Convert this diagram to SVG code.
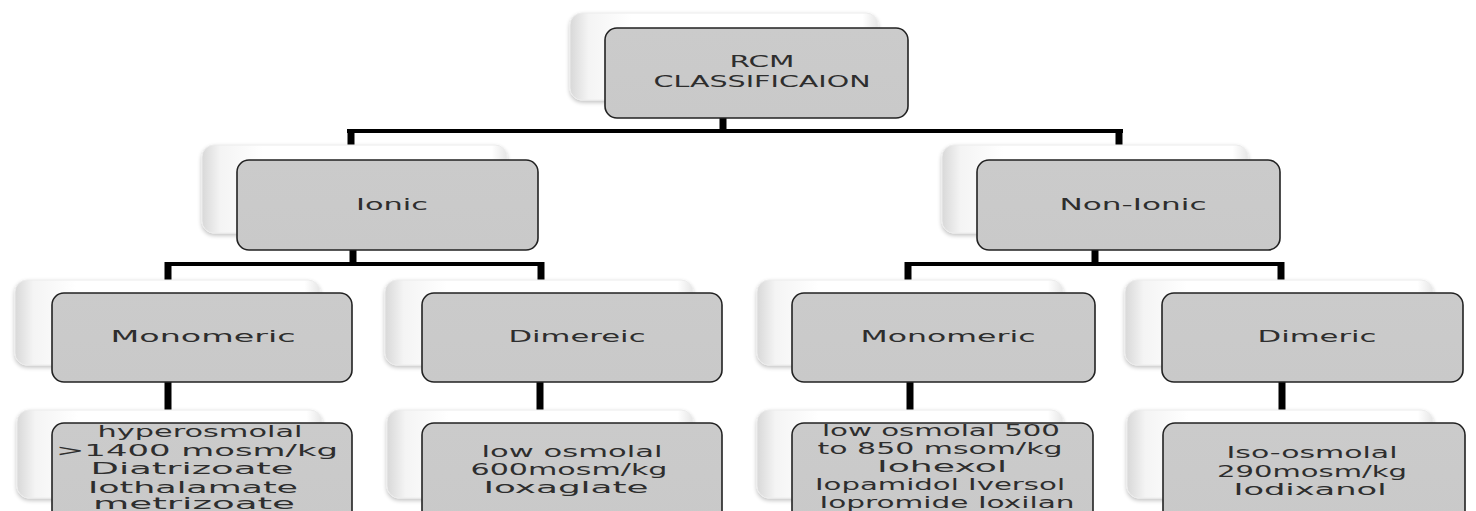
<svg xmlns="http://www.w3.org/2000/svg" width="1476" height="511" viewBox="0 0 1476 511">
<defs>
<linearGradient id="backg" x1="0" y1="0" x2="1" y2="0">
<stop offset="0" stop-color="#d8d8d8"/>
<stop offset="0.06" stop-color="#f4f4f4"/>
<stop offset="0.2" stop-color="#ffffff"/>
<stop offset="0.95" stop-color="#ffffff"/>
<stop offset="1" stop-color="#e6e6e6"/>
</linearGradient>
<linearGradient id="frontg" x1="0" y1="0" x2="0" y2="1">
<stop offset="0" stop-color="#cbcbcb"/>
<stop offset="1" stop-color="#c9c9c9"/>
</linearGradient>
<filter id="sh" x="-10%" y="-10%" width="120%" height="130%">
<feGaussianBlur in="SourceAlpha" stdDeviation="2"/>
<feOffset dx="0" dy="2" result="b"/>
<feComponentTransfer><feFuncA type="linear" slope="0.25"/></feComponentTransfer>
<feMerge><feMergeNode/><feMergeNode in="SourceGraphic"/></feMerge>
</filter>
</defs>
<style>
.back{fill:url(#backg);stroke:#ececec;stroke-width:1;filter:url(#sh)}
.front{fill:url(#frontg);stroke:#222;stroke-width:1.6}
.t{font-family:"DejaVu Sans",Verdana,sans-serif;fill:#2e2e2e;text-anchor:middle}
.s1{font-size:15px}
.s2{font-size:15.5px}
.v{stroke:#000;stroke-width:7;fill:none}
.h{stroke:#000;stroke-width:4;fill:none}
</style>

<g id="connectors">
<line class="v" x1="723" y1="118" x2="723" y2="131"/>
<line class="h" x1="347" y1="131" x2="1123" y2="131"/>
<line class="v" x1="351" y1="129" x2="351" y2="146"/>
<line class="v" x1="1119" y1="129" x2="1119" y2="146"/>
<line class="v" x1="353" y1="250" x2="353" y2="264"/>
<line class="h" x1="165" y1="264" x2="544" y2="264"/>
<line class="v" x1="168" y1="262" x2="168" y2="281"/>
<line class="v" x1="541" y1="262" x2="541" y2="281"/>
<line class="v" x1="1095" y1="250" x2="1095" y2="264"/>
<line class="h" x1="905" y1="264" x2="1284" y2="264"/>
<line class="v" x1="908" y1="262" x2="908" y2="281"/>
<line class="v" x1="1281" y1="262" x2="1281" y2="281"/>
<line class="v" x1="168" y1="382" x2="168" y2="411"/>
<line class="v" x1="540" y1="382" x2="540" y2="411"/>
<line class="v" x1="910" y1="382" x2="910" y2="411"/>
<line class="v" x1="1282" y1="382" x2="1282" y2="411"/>
</g>

<g id="node-rcm">
<rect class="back" x="570" y="13" width="308" height="87" rx="12"/>
<rect class="front" x="605" y="28" width="303" height="90" rx="12"/>
<text class="t s1" x="762" y="67" textLength="65" lengthAdjust="spacingAndGlyphs">RCM</text>
<text class="t s1" x="762" y="87" textLength="217" lengthAdjust="spacingAndGlyphs">CLASSIFICAION</text>
</g>

<g id="node-ionic">
<rect class="back" x="202" y="145" width="305" height="88" rx="12"/>
<rect class="front" x="237" y="160" width="301" height="90" rx="12"/>
<text class="t s1" x="392" y="210" textLength="72" lengthAdjust="spacingAndGlyphs">Ionic</text>
</g>

<g id="node-nonionic">
<rect class="back" x="942" y="145" width="306" height="88" rx="12"/>
<rect class="front" x="977" y="160" width="303" height="90" rx="12"/>
<text class="t s1" x="1133" y="210" textLength="147" lengthAdjust="spacingAndGlyphs">Non-Ionic</text>
</g>

<g id="node-ionic-mono">
<rect class="back" x="15" y="280" width="305" height="85" rx="12"/>
<rect class="front" x="52" y="293" width="300" height="89" rx="12"/>
<text class="t s1" x="203" y="342" textLength="185" lengthAdjust="spacingAndGlyphs">Monomeric</text>
</g>

<g id="node-ionic-di">
<rect class="back" x="385" y="280" width="308" height="85" rx="12"/>
<rect class="front" x="422" y="293" width="300" height="89" rx="12"/>
<text class="t s1" x="577" y="342" textLength="137" lengthAdjust="spacingAndGlyphs">Dimereic</text>
</g>

<g id="node-non-mono">
<rect class="back" x="757" y="280" width="306" height="85" rx="12"/>
<rect class="front" x="792" y="293" width="303" height="89" rx="12"/>
<text class="t s1" x="948" y="342" textLength="175" lengthAdjust="spacingAndGlyphs">Monomeric</text>
</g>

<g id="node-non-di">
<rect class="back" x="1125" y="280" width="308" height="85" rx="12"/>
<rect class="front" x="1162" y="293" width="301" height="89" rx="12"/>
<text class="t s1" x="1317" y="342" textLength="119" lengthAdjust="spacingAndGlyphs">Dimeric</text>
</g>

<g id="node-ionic-mono-detail">
<rect class="back" x="17" y="410" width="305" height="88" rx="12"/>
<rect class="front" x="52" y="423" width="300" height="100" rx="12"/>
<text class="t s2" x="200" y="437" textLength="205" lengthAdjust="spacingAndGlyphs">hyperosmolal</text>
<text class="t s2" x="197" y="455.5" textLength="282" lengthAdjust="spacingAndGlyphs">&gt;1400 mosm/kg</text>
<text class="t s2" x="192" y="474" textLength="203" lengthAdjust="spacingAndGlyphs">Diatrizoate</text>
<text class="t s2" x="193" y="492.5" textLength="210" lengthAdjust="spacingAndGlyphs">Iothalamate</text>
<text class="t s2" x="194" y="509" textLength="202" lengthAdjust="spacingAndGlyphs">metrizoate</text>
</g>

<g id="node-ionic-di-detail">
<rect class="back" x="387" y="410" width="306" height="88" rx="12"/>
<rect class="front" x="422" y="423" width="300" height="100" rx="12"/>
<text class="t s2" x="572" y="457" textLength="181" lengthAdjust="spacingAndGlyphs">low osmolal</text>
<text class="t s2" x="569" y="475" textLength="197" lengthAdjust="spacingAndGlyphs">600mosm/kg</text>
<text class="t s2" x="566" y="493" textLength="165" lengthAdjust="spacingAndGlyphs">Ioxaglate</text>
</g>

<g id="node-non-mono-detail">
<rect class="back" x="757" y="410" width="306" height="88" rx="12"/>
<rect class="front" x="792" y="423" width="301" height="100" rx="12"/>
<text class="t s2" x="941" y="436" textLength="238" lengthAdjust="spacingAndGlyphs">low osmolal 500</text>
<text class="t s2" x="940" y="454" textLength="245" lengthAdjust="spacingAndGlyphs">to 850 msom/kg</text>
<text class="t s2" x="942" y="472" textLength="130" lengthAdjust="spacingAndGlyphs">Iohexol</text>
<text class="t s2" x="940" y="490" textLength="250" lengthAdjust="spacingAndGlyphs">Iopamidol Iversol</text>
<text class="t s2" x="947" y="507.5" textLength="255" lengthAdjust="spacingAndGlyphs">Iopromide Ioxilan</text>
</g>

<g id="node-non-di-detail">
<rect class="back" x="1127" y="410" width="306" height="88" rx="12"/>
<rect class="front" x="1163" y="423" width="302" height="100" rx="12"/>
<text class="t s2" x="1312" y="458" textLength="171" lengthAdjust="spacingAndGlyphs">Iso-osmolal</text>
<text class="t s2" x="1312" y="476.5" textLength="190" lengthAdjust="spacingAndGlyphs">290mosm/kg</text>
<text class="t s2" x="1310" y="495" textLength="153" lengthAdjust="spacingAndGlyphs">Iodixanol</text>
</g>
</svg>
